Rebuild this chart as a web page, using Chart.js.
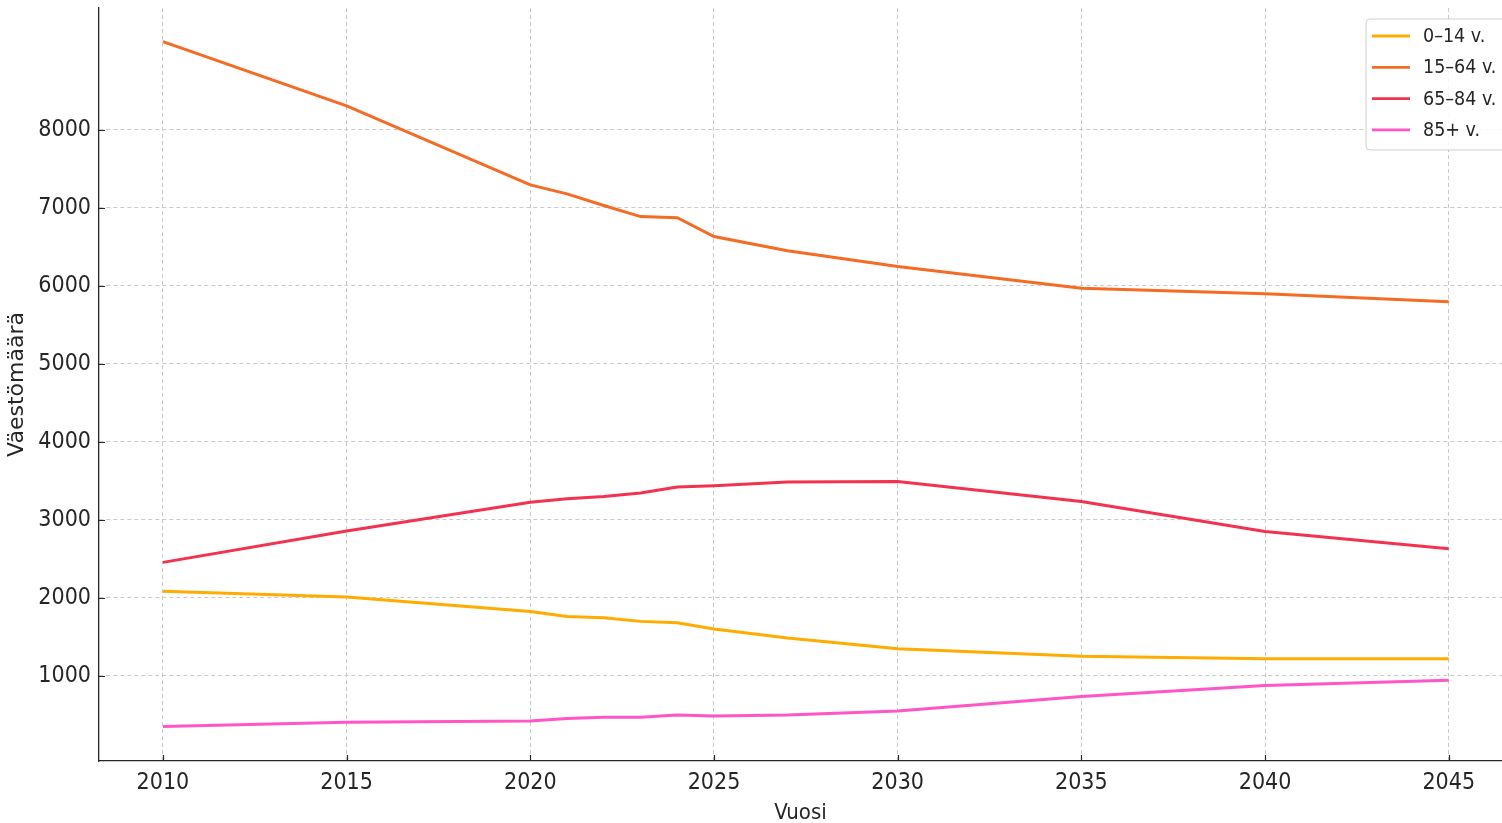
<!DOCTYPE html>
<html>
<head>
<meta charset="utf-8">
<script src="https://cdn.jsdelivr.net/npm/chart.js@4"></script>
<style>
  html, body { margin: 0; padding: 0; background: #ffffff; }
  #wrap { width: 1502px; height: 823px; position: relative; }
</style>
</head>
<body>
<div id="wrap"><canvas id="c" width="1502" height="823"></canvas></div>
<script>
const years = [2010, 2015, 2020, 2021, 2022, 2023, 2024, 2025, 2027, 2030, 2035, 2040, 2045];
const age0_14 = [2081, 2008, 1824, 1760, 1744, 1696, 1679, 1598, 1483, 1346, 1248, 1218, 1218];
const age15_64 = [9132, 8308, 7295, 7180, 7030, 6888, 6875, 6632, 6449, 6247, 5970, 5897, 5795];
const age65_84 = [2453, 2855, 3224, 3269, 3299, 3342, 3419, 3436, 3483, 3490, 3235, 2850, 2628];
const age85 = [348, 401, 418, 449, 465, 465, 496, 483, 496, 547, 731, 872, 940];
const seriesLabels = ['0–14 v.', '15–64 v.', '65–84 v.', '85+ v.'];
const seriesColors = ['#ffab00', '#f56b23', '#f2324f', '#ff55c6'];
const xTicks = [2010, 2015, 2020, 2025, 2030, 2035, 2040, 2045];
const yTicks = [1000, 2000, 3000, 4000, 5000, 6000, 7000, 8000];
const xTitle = 'Vuosi';
const yTitle = 'Väestömäärä';

const CONDENSED = '"DejaVu Sans Condensed", "Liberation Sans Narrow", "DejaVu Sans", sans-serif';
const NORMAL = '"DejaVu Sans", sans-serif';
const INK = '#262626';
const GRID = '#c9c9c9';

const seriesValues = [age0_14, age15_64, age65_84, age85];
const datasets = seriesValues.map((vals, i) => ({
  label: seriesLabels[i],
  data: years.map((y, j) => ({ x: y, y: vals[j] })),
  borderColor: seriesColors[i],
  backgroundColor: seriesColors[i],
  borderWidth: 3,
  pointRadius: 0,
  tension: 0,
  fill: false
}));

const inTicks = {
  id: 'inTicks',
  afterDatasetsDraw(chart) {
    const ctx = chart.ctx;
    const xs = chart.scales.x, ys = chart.scales.y;
    const area = chart.chartArea;
    ctx.save();
    ctx.strokeStyle = INK;
    ctx.lineWidth = 1.2;
    ctx.setLineDash([]);
    ctx.beginPath();
    xs.ticks.forEach(t => {
      const px = Math.round(xs.getPixelForValue(t.value)) + 0.5;
      ctx.moveTo(px, area.bottom);
      ctx.lineTo(px, area.bottom - 6);
    });
    ys.ticks.forEach(t => {
      const py = Math.round(ys.getPixelForValue(t.value)) + 0.5;
      ctx.moveTo(area.left, py);
      ctx.lineTo(area.left + 6, py);
    });
    ctx.stroke();
    ctx.restore();
  }
};

const boxLegend = {
  id: 'boxLegend',
  afterDraw(chart) {
    const ctx = chart.ctx;
    const x0 = 1366, y0 = 19, w = 160, h = 131, r = 4;
    ctx.save();
    ctx.setLineDash([]);
    ctx.beginPath();
    ctx.moveTo(x0 + r, y0);
    ctx.lineTo(x0 + w - r, y0);
    ctx.arcTo(x0 + w, y0, x0 + w, y0 + r, r);
    ctx.lineTo(x0 + w, y0 + h - r);
    ctx.arcTo(x0 + w, y0 + h, x0 + w - r, y0 + h, r);
    ctx.lineTo(x0 + r, y0 + h);
    ctx.arcTo(x0, y0 + h, x0, y0 + h - r, r);
    ctx.lineTo(x0, y0 + r);
    ctx.arcTo(x0, y0, x0 + r, y0, r);
    ctx.closePath();
    ctx.fillStyle = 'rgba(255,255,255,0.85)';
    ctx.fill();
    ctx.strokeStyle = '#cfcfcf';
    ctx.lineWidth = 1;
    ctx.stroke();
    ctx.font = '19.5px ' + CONDENSED;
    ctx.textBaseline = 'middle';
    ctx.textAlign = 'left';
    chart.data.datasets.forEach((ds, i) => {
      const cy = 36 + i * 31.3;
      ctx.strokeStyle = ds.borderColor;
      ctx.lineWidth = 2.8;
      ctx.beginPath();
      ctx.moveTo(1372, cy);
      ctx.lineTo(1410, cy);
      ctx.stroke();
      ctx.fillStyle = INK;
      ctx.fillText(ds.label, 1423, cy + 1);
    });
    ctx.restore();
  }
};

new Chart(document.getElementById('c'), {
  type: 'line',
  data: { datasets },
  options: {
    responsive: false,
    animation: false,
    devicePixelRatio: 1,
    layout: { padding: { top: 8, right: 0, bottom: 0, left: 0 } },
    plugins: { legend: { display: false }, tooltip: { enabled: false }, title: { display: false } },
    scales: {
      x: {
        type: 'linear',
        min: 2008.26,
        max: 2046.45,
        afterBuildTicks: s => { s.ticks = xTicks.map(v => ({ value: v })); },
        afterFit: s => { s.height = 62; s.paddingLeft = 0; s.paddingRight = 0; },
        grid: { color: GRID, lineWidth: 1, drawTicks: false },
        border: { display: true, color: INK, width: 1.3, dash: [4, 3] },
        ticks: { color: INK, font: { family: CONDENSED, size: 23 }, padding: 8, maxRotation: 0, callback: v => String(v) },
        title: { display: true, text: xTitle, color: INK, font: { family: CONDENSED, size: 22, lineHeight: 1 }, padding: { top: 0, bottom: -1 } }
      },
      y: {
        type: 'linear',
        min: -95,
        max: 9564,
        afterBuildTicks: s => { s.ticks = yTicks.map(v => ({ value: v })); },
        afterFit: s => { s.width = 99; s.paddingTop = 0; s.paddingBottom = 0; },
        grid: { color: GRID, lineWidth: 1, drawTicks: false },
        border: { display: true, color: INK, width: 1.3, dash: [4, 3] },
        ticks: { color: INK, font: { family: CONDENSED, size: 23 }, padding: 8, callback: v => String(v) },
        title: { display: true, text: yTitle, color: INK, font: { family: NORMAL, size: 22, lineHeight: 1 }, padding: { top: 6, bottom: 0 } }
      }
    }
  },
  plugins: [inTicks, boxLegend]
});
</script>
</body>
</html>
